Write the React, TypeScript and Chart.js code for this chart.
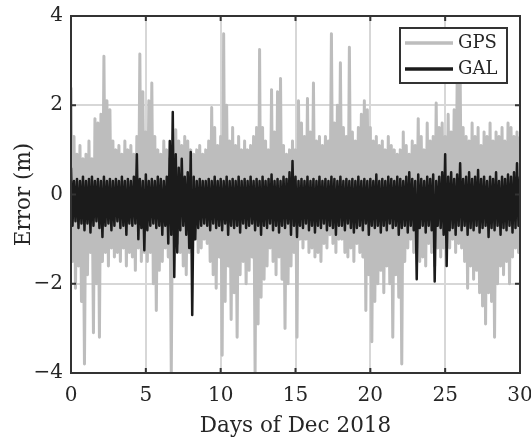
import React, { useEffect, useRef } from "react";
import { Chart, registerables } from "chart.js";

Chart.register(...registerables);

// Positioning error time series, December 2018.
// Each series is stored as its successive positive excursions (UP) and
// negative excursions (LOW); they alternate in time, half a step apart.
const SAMPLE_STEP = 0.2; // days between successive UP samples

const X_TICKS = [0, 5, 10, 15, 20, 25, 30];
const Y_TICKS = [-4, -2, 0, 2, 4];

const SERIES_LABELS = ["GPS", "GAL"];

// GPS, one row per day
const GPS_UP = [
  2.4, 1.3, 0.9, 1.1, 0.8,
  0.9, 1.2, 0.8, 1.7, 1.6,
  1.8, 3.1, 2.1, 1.9, 1.2,
  1.0, 1.1, 0.9, 1.2, 1.0,
  1.1, 0.9, 1.3, 3.15, 2.3,
  1.4, 2.1, 2.5, 1.3, 1.0,
  0.9, 1.2, 1.0, 0.8, 1.0,
  1.45, 1.2, 1.1, 1.3, 1.2,
  1.0, 0.9, 1.0, 1.1, 0.9,
  1.0, 1.2, 1.95, 1.5, 1.1,
  1.3, 3.6, 2.0, 1.2, 1.5,
  1.1, 1.3, 1.0, 1.2, 1.0,
  1.1, 1.3, 1.5, 3.25, 1.5,
  1.2, 1.0, 2.35, 1.4, 2.3,
  2.6, 1.1, 0.9, 1.0, 1.2,
  1.0, 2.1, 1.6, 1.3, 2.15,
  1.4, 2.5, 1.2, 1.3, 1.1,
  1.3, 1.2, 3.6, 1.6, 2.0,
  2.95, 1.5, 1.3, 3.3, 1.4,
  1.2, 1.5, 1.8, 2.1, 1.9,
  1.5, 1.2, 1.3, 1.1, 1.2,
  1.0, 1.3, 1.1, 1.0, 0.9,
  1.0, 1.4, 1.1, 0.9, 1.2,
  1.1, 1.7, 1.3, 1.0, 1.6,
  1.2, 1.3, 2.05, 1.5, 1.6,
  1.3, 1.8, 1.4, 1.9, 2.5,
  2.7, 1.5, 1.3, 1.2, 1.6,
  1.3, 1.5, 1.1, 1.4, 1.3,
  1.6, 1.2, 1.4, 1.3, 1.5,
  1.2, 1.6, 1.5, 1.3, 1.4,
  1.3,
];

const GPS_LOW = [
  -1.5, -2.1, -1.6, -2.4, -3.8,
  -1.8, -1.3, -3.1, -2.0, -3.2,
  -1.5, -1.3, -1.6, -1.2, -1.4,
  -1.3, -1.5, -1.2, -1.6, -1.3,
  -1.4, -1.7, -1.2, -1.5, -1.3,
  -1.5, -1.3, -2.0, -2.6, -1.7,
  -1.5, -1.2, -1.4, -4.0, -1.2,
  -1.1, -1.3, -1.6, -1.8, -1.3,
  -1.2, -1.0, -1.3, -1.2, -1.0,
  -1.1, -1.5, -1.8, -2.1, -1.4,
  -3.6, -2.4, -1.6, -2.8, -2.2,
  -3.2, -1.8, -1.5, -2.0, -1.7,
  -1.4, -4.0, -2.9, -2.3, -1.9,
  -1.6, -1.2, -1.5, -1.8, -1.4,
  -1.9, -3.0, -2.0, -1.6, -1.3,
  -3.2, -1.0, -1.2, -1.0, -1.3,
  -1.2, -1.4, -1.3, -1.5, -1.1,
  -1.2, -0.9, -1.1, -1.3, -1.0,
  -1.0, -1.3, -1.4, -1.2, -1.5,
  -1.1, -1.3, -1.4, -2.6, -1.8,
  -3.3, -2.4, -2.0, -1.7, -2.2,
  -1.6, -2.0, -3.2, -1.8, -2.3,
  -3.8, -1.5, -1.2, -1.0, -1.3,
  -1.2, -1.5, -1.4, -1.6, -1.1,
  -1.3, -1.6, -1.2, -1.4, -1.2,
  -1.0, -1.2, -1.0, -1.3, -1.1,
  -1.2, -1.5, -2.1, -1.6, -1.9,
  -1.7, -2.2, -2.5, -2.9, -2.2,
  -2.4, -3.2, -2.0, -1.6, -1.8,
  -1.5, -2.0, -1.4, -1.2, -1.3,
  -1.2,
];

// Galileo, one row per day
const GAL_UP = [
  0.6, 0.3, 0.35, 0.3, 0.4,
  0.3, 0.35, 0.4, 0.3, 0.35,
  0.3, 0.4, 0.3, 0.35, 0.3,
  0.35, 0.3, 0.4, 0.3, 0.35,
  0.3, 0.4, 0.9, 0.35, 0.3,
  0.45, 0.3, 0.35, 0.3, 0.4,
  0.35, 0.3, 0.4, 1.2, 1.85,
  0.9, 0.6, 0.8, 0.4, 0.5,
  0.95, 0.4, 0.3, 0.35, 0.3,
  0.3, 0.35, 0.3, 0.4, 0.3,
  0.35, 0.3, 0.4, 0.3, 0.35,
  0.3, 0.4, 0.3, 0.35, 0.3,
  0.4, 0.3, 0.35, 0.3, 0.4,
  0.3, 0.35, 0.45, 0.3, 0.35,
  0.3, 0.4, 0.35, 0.5, 0.75,
  0.4, 0.3, 0.35, 0.3, 0.4,
  0.3, 0.35, 0.3, 0.4, 0.3,
  0.35, 0.3, 0.4, 0.35, 0.3,
  0.4, 0.3, 0.35, 0.3, 0.35,
  0.3, 0.4, 0.3, 0.35, 0.3,
  0.35, 0.3, 0.45, 0.3, 0.35,
  0.3, 0.4, 0.35, 0.3, 0.4,
  0.35, 0.3, 0.4, 0.5, 0.35,
  0.3, 0.45, 0.35, 0.3, 0.4,
  0.35, 0.45, 0.3, 0.4, 0.5,
  0.9, 0.4, 0.5, 0.35, 0.45,
  0.7, 0.35, 0.4, 0.5, 0.35,
  0.4, 0.55, 0.35, 0.4, 0.3,
  0.4, 0.35, 0.5, 0.3, 0.4,
  0.35, 0.45, 0.4, 0.5, 0.7,
  0.4,
];

const GAL_LOW = [
  -0.7, -0.6, -0.75, -0.65, -0.8,
  -0.65, -0.85, -0.7, -0.6, -0.75,
  -0.95, -0.7, -0.65, -0.8, -0.7,
  -0.6, -0.75, -0.7, -0.9, -0.65,
  -0.7, -0.65, -1.0, -0.75, -1.25,
  -0.8, -0.7, -0.65, -0.75, -0.7,
  -0.9, -0.7, -1.1, -0.9, -1.85,
  -1.3, -0.8, -0.7, -0.9, -1.2,
  -2.7, -1.0, -0.75, -0.7, -0.65,
  -0.7, -0.8, -0.65, -0.75, -0.7,
  -0.8, -0.65, -0.9, -0.7, -0.75,
  -0.7, -0.85, -0.65, -0.75, -0.7,
  -0.65, -0.8, -0.7, -0.9, -0.7,
  -0.75, -0.65, -0.8, -0.7, -0.85,
  -0.7, -0.75, -0.65, -0.9, -0.7,
  -0.95, -0.7, -0.75, -0.65, -0.8,
  -0.7, -0.85, -0.7, -0.75, -0.65,
  -0.8, -0.7, -0.75, -0.9, -0.7,
  -0.7, -0.8, -0.65, -0.75, -0.85,
  -0.75, -0.7, -0.8, -0.65, -0.9,
  -0.7, -0.75, -0.7, -0.85, -0.7,
  -0.8, -0.65, -0.75, -0.7, -0.9,
  -0.75, -0.7, -0.85, -0.7, -0.8,
  -1.9, -0.75, -0.7, -0.85, -0.7,
  -0.8, -1.95, -0.7, -0.75, -0.9,
  -1.6, -0.8, -0.75, -0.9, -0.7,
  -0.8, -0.7, -0.9, -0.75, -0.8,
  -0.7, -0.85, -0.75, -0.7, -0.95,
  -0.75, -0.8, -0.7, -0.9, -0.75,
  -0.8, -0.7, -0.85, -0.75, -0.7,
  -0.75,
];

const GPS_COLOR = "#bdbdbd";
const GAL_COLOR = "#1b1b1b";
const GRID_COLOR = "#d7d7d7";
const AXIS_COLOR = "#333333";
const TEXT_COLOR = "#262626";
const FONT_FAMILY = "'DejaVu Serif', serif";

function interleave(up: number[], low: number[]) {
  const pts: { x: number; y: number }[] = [];
  for (let i = 0; i < up.length; i++) {
    pts.push({ x: i * SAMPLE_STEP, y: up[i] });
    if (i < low.length) pts.push({ x: i * SAMPLE_STEP + SAMPLE_STEP / 2, y: low[i] });
  }
  return pts;
}

const formatTick = (v: number) => (v < 0 ? "\u2212" + Math.abs(v) : String(v));

// Axes box with inward tick marks, drawn over the data
const framePlugin = {
  id: "frame",
  afterDatasetsDraw(chart: any) {
    const { ctx, chartArea, scales } = chart;
    const { left, right, top, bottom } = chartArea;
    const tickLen = 5;
    ctx.save();
    ctx.strokeStyle = AXIS_COLOR;
    ctx.lineWidth = 2;
    ctx.beginPath();
    for (const t of scales.x.ticks) {
      const px = scales.x.getPixelForValue(t.value);
      ctx.moveTo(px, bottom);
      ctx.lineTo(px, bottom - tickLen);
      ctx.moveTo(px, top);
      ctx.lineTo(px, top + tickLen);
    }
    for (const t of scales.y.ticks) {
      const py = scales.y.getPixelForValue(t.value);
      ctx.moveTo(left, py);
      ctx.lineTo(left + tickLen, py);
      ctx.moveTo(right, py);
      ctx.lineTo(right - tickLen, py);
    }
    ctx.stroke();
    ctx.strokeRect(left, top, right - left, bottom - top);
    ctx.restore();
  },
};

// Boxed legend in the upper-right corner of the plot area
const insideLegendPlugin = {
  id: "insideLegend",
  afterDraw(chart: any) {
    const { ctx, chartArea } = chart;
    const boxW = 107;
    const boxH = 55;
    const bx = chartArea.right - 13 - boxW;
    const by = chartArea.top + 12;
    ctx.save();
    ctx.fillStyle = "#ffffff";
    ctx.fillRect(bx, by, boxW, boxH);
    ctx.strokeStyle = AXIS_COLOR;
    ctx.lineWidth = 2;
    ctx.strokeRect(bx, by, boxW, boxH);
    const items = [...chart.data.datasets].sort((a: any, b: any) => b.order - a.order);
    items.forEach((ds: any, i: number) => {
      const cy = by + 15 + i * 26;
      ctx.strokeStyle = ds.borderColor;
      ctx.lineWidth = 3.5;
      ctx.beginPath();
      ctx.moveTo(bx + 5, cy);
      ctx.lineTo(bx + 53, cy);
      ctx.stroke();
      ctx.fillStyle = TEXT_COLOR;
      ctx.font = `18px ${FONT_FAMILY}`;
      ctx.textBaseline = "middle";
      ctx.textAlign = "left";
      ctx.fillText(ds.label, bx + 58, cy);
    });
    ctx.restore();
  },
};

export default function App() {
  const canvasRef = useRef<HTMLCanvasElement | null>(null);

  useEffect(() => {
    const canvas = canvasRef.current;
    if (!canvas) return;
    const chart = new Chart(canvas, {
      type: "line",
      data: {
        datasets: [
          {
            label: SERIES_LABELS[1],
            data: interleave(GAL_UP, GAL_LOW),
            borderColor: GAL_COLOR,
            borderWidth: 2.5,
            pointRadius: 0,
            tension: 0,
            borderJoinStyle: "round",
            order: 0,
          },
          {
            label: SERIES_LABELS[0],
            data: interleave(GPS_UP, GPS_LOW),
            borderColor: GPS_COLOR,
            borderWidth: 3,
            pointRadius: 0,
            tension: 0,
            borderJoinStyle: "round",
            order: 1,
          },
        ],
      },
      options: {
        animation: false,
        responsive: false,
        events: [],
        layout: { padding: { top: 16, right: 11, left: 0, bottom: 0 } },
        plugins: {
          legend: { display: false },
          tooltip: { enabled: false },
        },
        scales: {
          x: {
            type: "linear",
            min: 0,
            max: 30,
            afterBuildTicks: (s: any) => {
              s.ticks = X_TICKS.map((v) => ({ value: v }));
            },
            afterFit: (s: any) => {
              s.height = 69;
              s.paddingLeft = 0;
              s.paddingRight = 0;
            },
            grid: { color: GRID_COLOR, lineWidth: 2, drawTicks: false },
            border: { display: false },
            ticks: {
              font: { family: FONT_FAMILY, size: 20 },
              color: TEXT_COLOR,
              padding: 11,
              maxRotation: 0,
              autoSkip: false,
              callback: (v: any) => formatTick(Number(v)),
            },
            title: {
              display: true,
              text: "Days of Dec 2018",
              font: { family: FONT_FAMILY, size: 21.5 },
              color: TEXT_COLOR,
              padding: { top: 0, bottom: 3 },
            },
          },
          y: {
            type: "linear",
            min: -4,
            max: 4,
            afterBuildTicks: (s: any) => {
              s.ticks = Y_TICKS.map((v) => ({ value: v }));
            },
            afterFit: (s: any) => {
              s.width = 71;
              s.paddingTop = 0;
              s.paddingBottom = 0;
            },
            grid: { color: GRID_COLOR, lineWidth: 2, drawTicks: false },
            border: { display: false },
            ticks: {
              font: { family: FONT_FAMILY, size: 20 },
              color: TEXT_COLOR,
              padding: 8,
              autoSkip: false,
              callback: (v: any) => formatTick(Number(v)),
            },
            title: {
              display: true,
              text: "Error (m)",
              font: { family: FONT_FAMILY, size: 21.5 },
              color: TEXT_COLOR,
              padding: { top: 12, bottom: 0 },
            },
          },
        },
      },
      plugins: [framePlugin, insideLegendPlugin],
    } as any);
    return () => chart.destroy();
  }, []);

  return (
    <div style={{ position: "fixed", left: 0, top: 0, width: 531, height: 442, background: "#fff" }}>
      <canvas ref={canvasRef} width={531} height={442} style={{ display: "block" }} />
    </div>
  );
}
